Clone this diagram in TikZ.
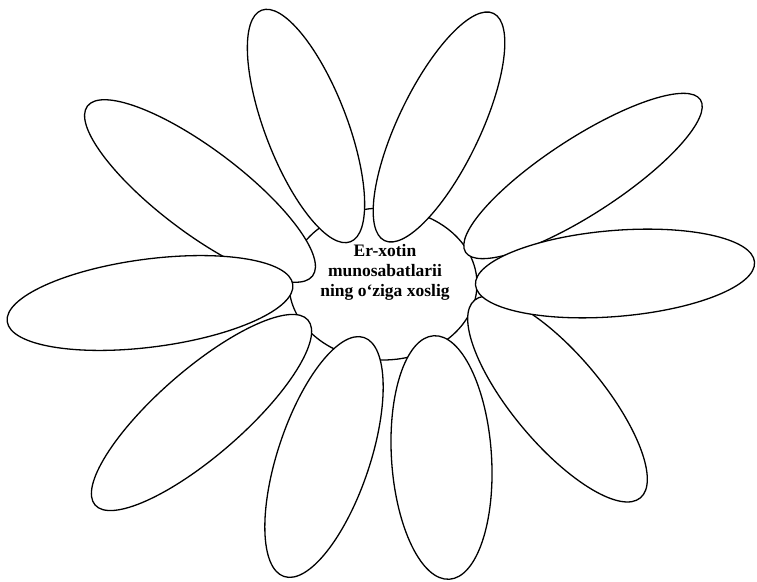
\documentclass[tikz,border=0pt]{standalone}
\usepackage{fontspec}
\setmainfont{Liberation Serif}
\usetikzlibrary{shapes.geometric}

\begin{document}
\begin{tikzpicture}[
  x=1pt, y=1pt,
  core/.style={draw, ellipse, fill=white, line width=1.3pt, inner sep=0pt, minimum width=188pt, minimum height=152pt},
  petal/.style={draw, ellipse, fill=white, line width=1.3pt, inner sep=0pt, outer sep=0pt},
  caption/.style={align=center, font=\bfseries\fontsize{17.5}{20}\selectfont}
]
  \useasboundingbox (0,0) rectangle (757,581);

  % CENTRE OF THE FLOWER
  \node (core) [core] at (383,297) {};

  % PETALS, back to front
  \node (petC) [petal, minimum width=282pt, minimum height=84pt, rotate=-37] at (200,390) {};
  \node (petA) [petal, minimum width=248pt, minimum height=82pt, rotate=111] at (306,455) {};
  \node (petB) [petal, minimum width=252pt, minimum height=82pt, rotate=64.4] at (439,454) {};
  \node (petJ) [petal, minimum width=280pt, minimum height=76pt, rotate=33] at (583,405) {};
  \node (petH) [petal, minimum width=258pt, minimum height=90pt, rotate=-50] at (557.5,182) {};
  \node (petI) [petal, minimum width=280pt, minimum height=86pt, rotate=4.7] at (615,307.5) {};
  \node (petG) [petal, minimum width=244pt, minimum height=100pt, rotate=93.7] at (441.5,123.5) {};
  \node (petF) [petal, minimum width=252pt, minimum height=92pt, rotate=71.5] at (324,124) {};
  \node (petE) [petal, minimum width=282pt, minimum height=86pt, rotate=41] at (201.5,168.5) {};
  \node (petD) [petal, minimum width=288pt, minimum height=88pt, rotate=7.4] at (150,278) {};

  % LABEL
  \node (label) [caption] at (385,309) {Er-xotin\\munosabatlarii\\ning o‘ziga xoslig};

\end{tikzpicture}
\end{document}
